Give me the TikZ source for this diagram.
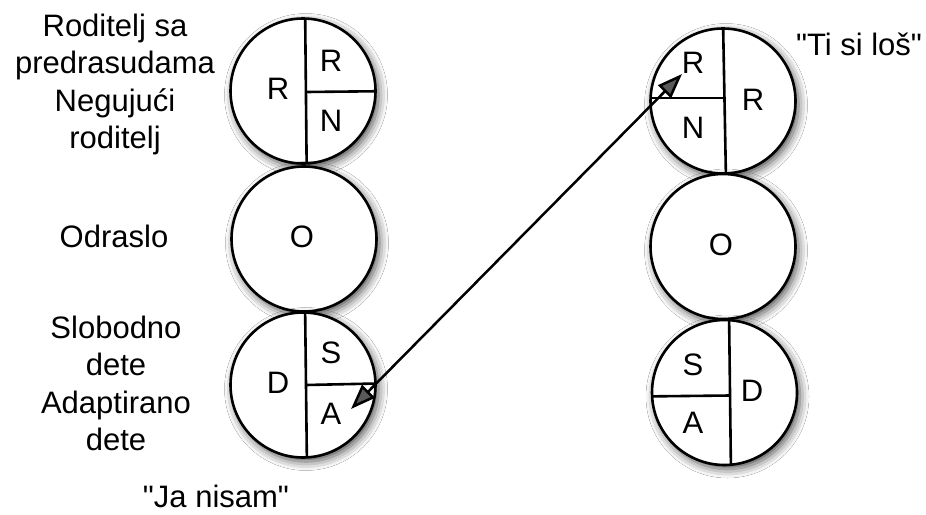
\documentclass[tikz,border=0pt]{standalone}
\usepackage{fontspec}
\newfontfamily\arialfont{Liberation Sans}
\usetikzlibrary{arrows.meta,shadows.blur}
\begin{document}
\begin{tikzpicture}[x=1pt,y=-1pt,
  ego/.style={circle, draw, line width=2.6pt, minimum size=145pt, inner sep=0pt},
  part/.style={line width=2.6pt},
  letter/.style={font=\arialfont\fontsize{31}{37}\selectfont, inner sep=0pt},
  lbl/.style={font=\arialfont\fontsize{31}{37}\selectfont, align=center, anchor=base, inner sep=0pt},
  shadowed/.style={fill=white, blur shadow={shadow xshift=3pt, shadow yshift=-4pt, shadow blur radius=9pt, shadow opacity=70}},
  tipstyle/.style={line width=2.5pt, {Triangle[length=25pt,width=18pt]}-{Triangle[length=25pt,width=18pt]}}]
\fill[white] (0,0) rectangle (926,514);
\useasboundingbox (0,0) rectangle (926,514);
% circle centres
\coordinate (cL1) at (303,91);
\coordinate (cL2) at (304,239);
\coordinate (cL3) at (303,385);
\coordinate (cR1) at (723,101);
\coordinate (cR2) at (723,246.5);
\coordinate (cR3) at (724.5,392.5);
% shadows
\foreach \c in {cL1,cL2,cL3,cR1,cR2,cR3} \fill[shadowed] (\c) circle (72.5pt);
% partitions
\begin{scope}
  \clip (cL1) circle (72pt);
  \draw[part] (305,0) -- (307,200);
  \draw[part] (306,92) -- (400,91);
\end{scope}
\begin{scope}
  \clip (cL3) circle (72pt);
  \draw[part] (305,300) -- (307,470);
  \draw[part] (306,385) -- (400,383);
\end{scope}
\begin{scope}
  \clip (cR1) circle (72pt);
  \draw[part] (723,20) -- (726,180);
  \draw[part] (600,98) -- (724.5,98);
\end{scope}
\begin{scope}
  \clip (cR3) circle (72pt);
  \draw[part] (729,310) -- (731,475);
  \draw[part] (640,396.5) -- (730,395.5);
\end{scope}
% circles
\node[ego] (L1) at (cL1) {};
\node[ego] (L2) at (cL2) {};
\node[ego] (L3) at (cL3) {};
\node[ego] (R1) at (cR1) {};
\node[ego] (R2) at (cR2) {};
\node[ego] (R3) at (cR3) {};
% letters
\node[letter] (L1a) at (278,89) {R};
\node[letter] (L1b) at (331,61) {R};
\node[letter] (L1c) at (331,121) {N};
\node[letter] (L2a) at (302,237) {O};
\node[letter] (L3a) at (278,383) {D};
\node[letter] (L3b) at (331,353) {S};
\node[letter] (L3c) at (331,414) {A};
\node[letter] (R1a) at (693,63) {R};
\node[letter] (R1b) at (693,128) {N};
\node[letter] (R1c) at (753,100) {R};
\node[letter] (R2a) at (721,245) {O};
\node[letter] (R3a) at (693,365) {S};
\node[letter] (R3b) at (693,423) {A};
\node[letter] (R3c) at (752,391) {D};
% labels (anchor base = baseline of last line)
\node[lbl] (rp) at (115,73) {Roditelj sa\\predrasudama};
\node[lbl] (np) at (115,148) {Negujući\\roditelj};
\node[lbl] (od) at (114,247) {Odraslo};
\node[lbl] (sd) at (116,375) {Slobodno\\dete};
\node[lbl] (ad) at (116,450) {Adaptirano\\dete};
\node[lbl] (ja) at (216,507) {"Ja nisam"};
\node[lbl] (ti) at (859,55) {"Ti si loš"};
% arrow
\coordinate (tA) at (351,409);
\coordinate (tR) at (682,74);
\draw[tipstyle] (tA) -- (tR);
\end{tikzpicture}
\end{document}
